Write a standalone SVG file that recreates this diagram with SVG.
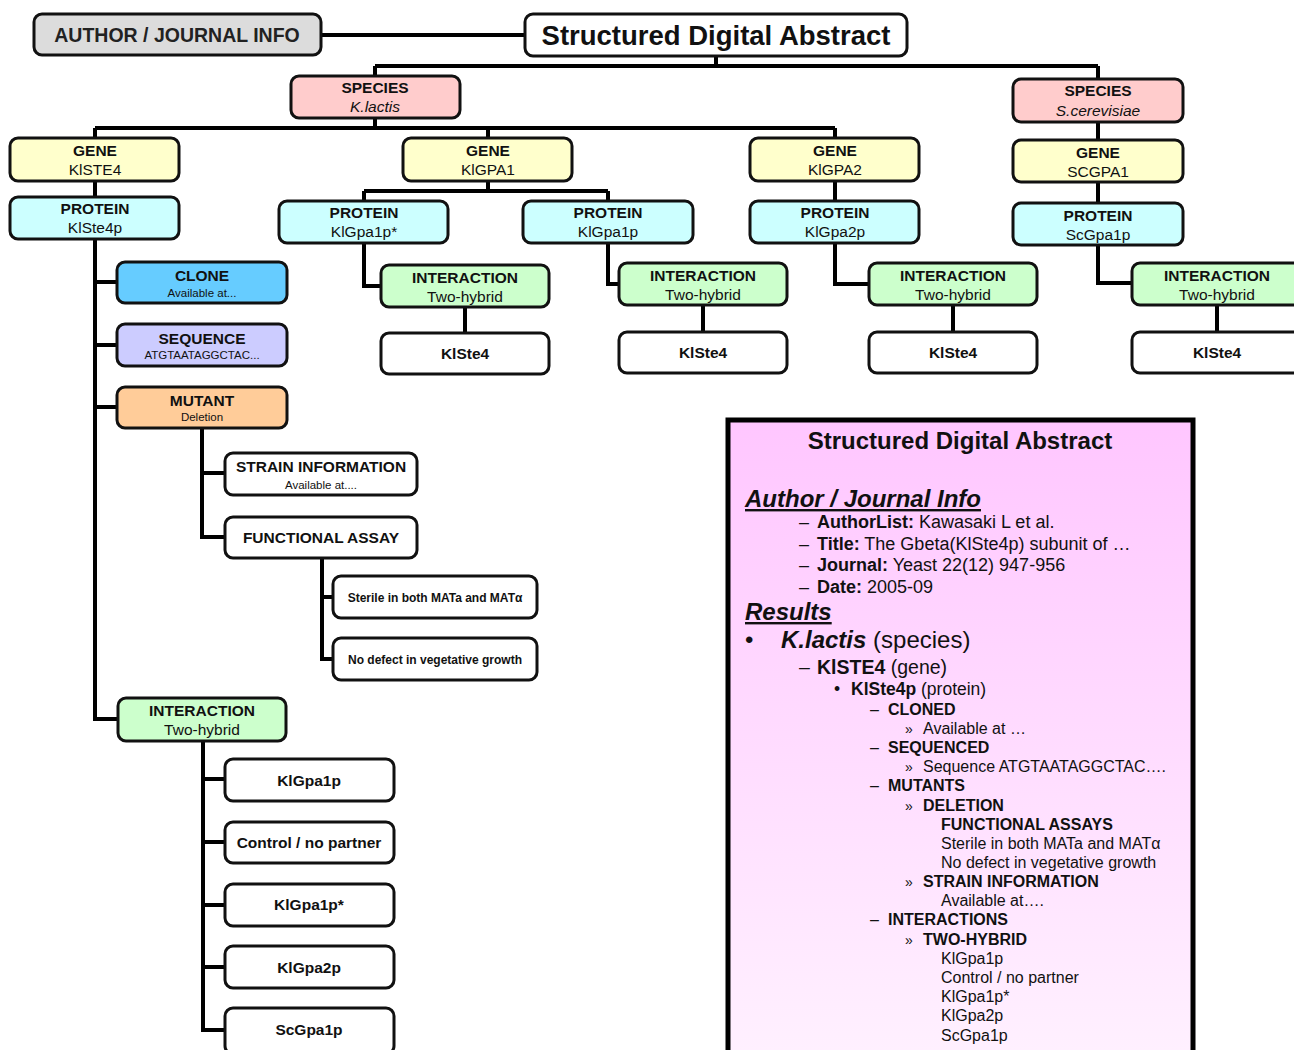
<svg xmlns="http://www.w3.org/2000/svg" width="1294" height="1050" viewBox="0 0 1294 1050">
<style>
.n{stroke:#111;stroke-width:3}
.w{fill:#fff}.gr{fill:#dcdcdc}.sp{fill:#ffcccc}.ge{fill:#ffffcc}.pr{fill:#ccffff}.in{fill:#ccffcc}.cl{fill:#66ccff}.sq{fill:#ccccff}.mu{fill:#ffcc99}
text{font-family:"Liberation Sans",Arial,sans-serif;fill:#111}
.c{text-anchor:middle}
.b{font-weight:bold}
.h{font-size:15.5px;font-weight:bold}
.s{font-size:15.5px}
.t{font-size:11.5px}
.k{font-size:12px;font-weight:bold}
.conn{stroke:#000;stroke-width:4;fill:none}
.r{font-size:18px}
.r16{font-size:16px}
</style>
<defs>
<linearGradient id="pg" x1="0" y1="0" x2="0" y2="1">
<stop offset="0" stop-color="#ffc6ff"/>
<stop offset="1" stop-color="#fff2ff"/>
</linearGradient>
</defs>

<g id="connectors" class="conn">
<path d="M321 35H525"/>
<path d="M716 56V66M375 66H1098M375 66V76M1098 66V79"/>
<path d="M375 118V128M95 128H835M95 128V138M488 128V138M835 128V138"/>
<path d="M95 181V197M488 181V191M364 191H608M364 191V201M608 191V201M835 181V201M1098 122V140M1098 182V203"/>
<path d="M364 243V286H381M465 307V333"/>
<path d="M608 243V284H619M703 305V332"/>
<path d="M835 243V284H869M953 305V332"/>
<path d="M1098 245V283H1132M1217 305V332"/>
<path d="M95 239V719H118M95 282H117M95 345H117M95 407H117"/>
<path d="M202 428V537H225M202 473H225"/>
<path d="M322 558V659H333M322 597H333"/>
<path d="M203 741V1030H225M203 779H225M203 842H225M203 905H225M203 967H225"/>
</g>

<g id="author-info"><rect class="n gr" x="34" y="14" width="287" height="41" rx="8"/><text class="c b" x="177" y="42" style="font-size:19.5px;fill:#222">AUTHOR / JOURNAL INFO</text></g>
<g id="sda"><rect class="n w" x="525" y="14" width="382" height="42" rx="8"/><text class="c b" x="716" y="45" style="font-size:27.5px">Structured Digital Abstract</text></g>

<g id="species-klactis"><rect class="n sp" x="291" y="76" width="169" height="42" rx="8"/><text class="c h" x="375" y="93">SPECIES</text><text class="c s" x="375" y="112" font-style="italic">K.lactis</text></g>
<g id="species-scerevisiae"><rect class="n sp" x="1013" y="79" width="170" height="43" rx="8"/><text class="c h" x="1098" y="96">SPECIES</text><text class="c s" x="1098" y="116" font-style="italic">S.cerevisiae</text></g>

<g id="gene-klste4"><rect class="n ge" x="10" y="138" width="169" height="43" rx="8"/><text class="c h" x="95" y="156">GENE</text><text class="c s" x="95" y="175">KlSTE4</text></g>
<g id="gene-klgpa1"><rect class="n ge" x="403" y="138" width="169" height="43" rx="8"/><text class="c h" x="488" y="156">GENE</text><text class="c s" x="488" y="175">KlGPA1</text></g>
<g id="gene-klgpa2"><rect class="n ge" x="750" y="138" width="169" height="43" rx="8"/><text class="c h" x="835" y="156">GENE</text><text class="c s" x="835" y="175">KlGPA2</text></g>
<g id="gene-scgpa1"><rect class="n ge" x="1013" y="140" width="170" height="42" rx="8"/><text class="c h" x="1098" y="158">GENE</text><text class="c s" x="1098" y="177">SCGPA1</text></g>

<g id="protein-klste4p"><rect class="n pr" x="10" y="197" width="169" height="42" rx="8"/><text class="c h" x="95" y="214">PROTEIN</text><text class="c s" x="95" y="233">KlSte4p</text></g>
<g id="protein-klgpa1p-star"><rect class="n pr" x="279" y="201" width="169" height="42" rx="8"/><text class="c h" x="364" y="218">PROTEIN</text><text class="c s" x="364" y="237">KlGpa1p*</text></g>
<g id="protein-klgpa1p"><rect class="n pr" x="523" y="201" width="170" height="42" rx="8"/><text class="c h" x="608" y="218">PROTEIN</text><text class="c s" x="608" y="237">KlGpa1p</text></g>
<g id="protein-klgpa2p"><rect class="n pr" x="750" y="201" width="169" height="42" rx="8"/><text class="c h" x="835" y="218">PROTEIN</text><text class="c s" x="835" y="237">KlGpa2p</text></g>
<g id="protein-scgpa1p"><rect class="n pr" x="1013" y="203" width="170" height="42" rx="8"/><text class="c h" x="1098" y="221">PROTEIN</text><text class="c s" x="1098" y="240">ScGpa1p</text></g>

<g id="int-1"><rect class="n in" x="381" y="265" width="168" height="42" rx="8"/><text class="c h" x="465" y="283">INTERACTION</text><text class="c s" x="465" y="302">Two-hybrid</text></g>
<g id="ks-1"><rect class="n w" x="381" y="333" width="168" height="41" rx="8"/><text class="c h" x="465" y="359">KlSte4</text></g>
<g id="int-2"><rect class="n in" x="619" y="263" width="168" height="42" rx="8"/><text class="c h" x="703" y="281">INTERACTION</text><text class="c s" x="703" y="300">Two-hybrid</text></g>
<g id="ks-2"><rect class="n w" x="619" y="332" width="168" height="41" rx="8"/><text class="c h" x="703" y="358">KlSte4</text></g>
<g id="int-3"><rect class="n in" x="869" y="263" width="168" height="42" rx="8"/><text class="c h" x="953" y="281">INTERACTION</text><text class="c s" x="953" y="300">Two-hybrid</text></g>
<g id="ks-3"><rect class="n w" x="869" y="332" width="168" height="41" rx="8"/><text class="c h" x="953" y="358">KlSte4</text></g>
<g id="int-4"><rect class="n in" x="1132" y="263" width="172" height="42" rx="8"/><text class="c h" x="1217" y="281">INTERACTION</text><text class="c s" x="1217" y="300">Two-hybrid</text></g>
<g id="ks-4"><rect class="n w" x="1132" y="332" width="172" height="41" rx="8"/><text class="c h" x="1217" y="358">KlSte4</text></g>

<g id="clone"><rect class="n cl" x="117" y="262" width="170" height="41" rx="8"/><text class="c h" x="202" y="281">CLONE</text><text class="c t" x="202" y="297">Available at...</text></g>
<g id="sequence"><rect class="n sq" x="117" y="324" width="170" height="42" rx="8"/><text class="c h" x="202" y="344">SEQUENCE</text><text class="c t" x="202" y="359">ATGTAATAGGCTAC...</text></g>
<g id="mutant"><rect class="n mu" x="117" y="387" width="170" height="41" rx="8"/><text class="c h" x="202" y="406">MUTANT</text><text class="c t" x="202" y="421">Deletion</text></g>
<g id="strain"><rect class="n w" x="225" y="453" width="192" height="42" rx="8"/><text class="c h" x="321" y="472">STRAIN INFORMATION</text><text class="c t" x="321" y="489">Available at....</text></g>
<g id="functional-assay"><rect class="n w" x="225" y="517" width="192" height="41" rx="8"/><text class="c h" x="321" y="543">FUNCTIONAL ASSAY</text></g>
<g id="sterile"><rect class="n w" x="333" y="576" width="204" height="42" rx="8"/><text class="c k" x="435" y="602">Sterile in both MATa and MATα</text></g>
<g id="nodefect"><rect class="n w" x="333" y="638" width="204" height="42" rx="8"/><text class="c k" x="435" y="664">No defect in vegetative growth</text></g>

<g id="int-0"><rect class="n in" x="118" y="698" width="168" height="43" rx="8"/><text class="c h" x="202" y="716">INTERACTION</text><text class="c s" x="202" y="735">Two-hybrid</text></g>
<g id="t-1"><rect class="n w" x="225" y="759" width="169" height="42" rx="8"/><text class="c h" x="309" y="786">KlGpa1p</text></g>
<g id="t-2"><rect class="n w" x="225" y="822" width="169" height="41" rx="8"/><text class="c h" x="309" y="848">Control / no partner</text></g>
<g id="t-3"><rect class="n w" x="225" y="884" width="169" height="42" rx="8"/><text class="c h" x="309" y="910">KlGpa1p*</text></g>
<g id="t-4"><rect class="n w" x="225" y="946" width="169" height="42" rx="8"/><text class="c h" x="309" y="973">KlGpa2p</text></g>
<g id="t-5"><rect class="n w" x="225" y="1008" width="169" height="46" rx="8"/><text class="c h" x="309" y="1035">ScGpa1p</text></g>

<g id="panel">
<rect x="728" y="420" width="465" height="660" fill="url(#pg)" stroke="#000" stroke-width="5"/>
<text class="c b" x="960" y="449" style="font-size:24px">Structured Digital Abstract</text>
<text class="b" x="745" y="507" style="font-size:24px;font-style:italic;text-decoration:underline">Author / Journal Info</text>
<text class="r" x="799" y="528">–</text><text class="r" x="817" y="528"><tspan font-weight="bold">AuthorList:</tspan> Kawasaki L et al.</text>
<text class="r" x="799" y="550">–</text><text class="r" x="817" y="550"><tspan font-weight="bold">Title:</tspan> The Gbeta(KlSte4p) subunit of …</text>
<text class="r" x="799" y="571">–</text><text class="r" x="817" y="571"><tspan font-weight="bold">Journal:</tspan> Yeast 22(12) 947-956</text>
<text class="r" x="799" y="593">–</text><text class="r" x="817" y="593"><tspan font-weight="bold">Date:</tspan> 2005-09</text>
<text class="b" x="745" y="620" style="font-size:24px;font-style:italic;text-decoration:underline">Results</text>
<text x="745" y="648" style="font-size:24px">•</text><text x="781" y="648" style="font-size:24px"><tspan font-weight="bold" font-style="italic">K.lactis</tspan> (species)</text>
<text x="799" y="674" style="font-size:19.5px">–</text><text x="817" y="674" style="font-size:19.5px"><tspan font-weight="bold">KlSTE4</tspan> (gene)</text>
<text x="834" y="695" style="font-size:17.5px">•</text><text x="851" y="695" style="font-size:17.5px"><tspan font-weight="bold">KlSte4p</tspan> (protein)</text>
<text class="r16" x="870" y="715">–</text><text class="r16 b" x="888" y="715">CLONED</text>
<text class="r16" x="905" y="734" style="font-size:14px">»</text><text class="r16" x="923" y="734">Available at …</text>
<text class="r16" x="870" y="753">–</text><text class="r16 b" x="888" y="753">SEQUENCED</text>
<text class="r16" x="905" y="772" style="font-size:14px">»</text><text class="r16" x="923" y="772">Sequence ATGTAATAGGCTAC….</text>
<text class="r16" x="870" y="791">–</text><text class="r16 b" x="888" y="791">MUTANTS</text>
<text class="r16" x="905" y="811" style="font-size:14px">»</text><text class="r16 b" x="923" y="811">DELETION</text>
<text class="r16 b" x="941" y="830">FUNCTIONAL ASSAYS</text>
<text class="r16" x="941" y="849">Sterile in both MATa and MATα</text>
<text class="r16" x="941" y="868">No defect in vegetative growth</text>
<text class="r16" x="905" y="887" style="font-size:14px">»</text><text class="r16 b" x="923" y="887">STRAIN INFORMATION</text>
<text class="r16" x="941" y="906">Available at….</text>
<text class="r16" x="870" y="925">–</text><text class="r16 b" x="888" y="925">INTERACTIONS</text>
<text class="r16" x="905" y="945" style="font-size:14px">»</text><text class="r16 b" x="923" y="945">TWO-HYBRID</text>
<text class="r16" x="941" y="964">KlGpa1p</text>
<text class="r16" x="941" y="983">Control / no partner</text>
<text class="r16" x="941" y="1002">KlGpa1p*</text>
<text class="r16" x="941" y="1021">KlGpa2p</text>
<text class="r16" x="941" y="1041">ScGpa1p</text>
</g>
</svg>
